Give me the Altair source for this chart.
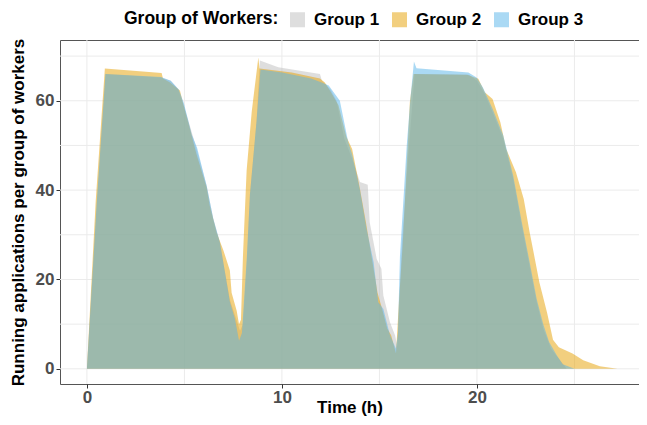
import altair as alt
import pandas as pd

groups = ["Group 1", "Group 2", "Group 3"]
colors = ["#bebebe", "#E69F00", "#56B4E9"]

# Group 1 (grey)
t1 = [0, 0.5, 0.95, 3.8, 4.3, 4.68, 4.94, 5.28, 5.62, 6.14, 6.48, 6.82, 7.08, 7.33, 7.59, 7.85, 8.0, 8.2,
      8.36, 8.7, 8.87, 9.81, 11.95, 12.05, 12.5, 12.8, 13.2, 13.6, 14.0, 14.4, 14.5, 14.86, 15.1, 15.2,
      15.54, 15.8, 15.92, 16.15, 16.5, 16.7, 16.8, 19.6, 20.0, 20.4, 20.8, 21.35, 21.86, 22.3, 22.7,
      23.06, 23.4, 23.8, 24.25, 24.6]
v1 = [0, 36.5, 66, 65.2, 64.5, 62.6, 59.3, 54.4, 49.2, 41, 33.6, 28.3, 21.6, 15.5, 12, 8.5, 10, 24,
      39, 55.5, 69, 67.5, 66, 64.5, 62.5, 60, 51.5, 47, 41.8, 41.2, 32.8, 24.6, 22.4, 16.4,
      10.4, 7.5, 5, 28, 49, 60, 66, 65.8, 64.5, 61.5, 57.5, 51.5, 42.5, 32, 23,
      15, 9, 4.5, 2, 0]

# Group 2 (orange)
t2 = [0, 0.45, 0.92, 3.83, 3.9, 4.26, 4.77, 4.94, 5.28, 5.62, 6.14, 6.3, 6.65, 7.0, 7.33, 7.42, 7.68,
      7.8, 7.9, 8.0, 8.19, 8.45, 8.79, 8.85, 10.5, 11.95, 12.2, 12.5, 12.9, 13.3, 13.6, 14.0, 14.3,
      14.6, 14.9, 15.1, 15.4, 15.6, 15.85, 16.0, 16.2, 16.56, 16.75, 19.5, 20.07, 20.4, 20.8, 21.2,
      21.5, 22.0, 22.4, 22.7, 22.97, 23.2, 23.6, 23.9, 24.2, 24.9, 25.45, 26.3, 27.2]
v2 = [0, 37.5, 67.2, 66.2, 65, 64.1, 62.3, 59.3, 53.8, 48, 40.6, 36.5, 30.5, 26.5, 22, 17, 13,
      10, 11, 25, 44.4, 57.5, 69.7, 67.2, 66.3, 65, 64.1, 62, 59, 52, 49.2, 40.3, 33,
      25, 17, 14, 9, 7.5, 3.4, 15, 28.4, 59.7, 66, 65.8, 64.9, 61.9, 60.4, 55.2,
      49.2, 44, 38, 30.6, 24.6, 19.4, 12.5, 6.5, 4.8, 3.4, 1.9, 0.6, 0]

# Group 3 (blue)
t3 = [0, 0.5, 0.95, 3.8, 4.3, 4.7, 4.97, 5.37, 5.65, 6.14, 6.48, 6.82, 7.08, 7.33, 7.59, 7.8, 7.95,
      8.2, 8.36, 8.7, 8.9, 10.0, 11.5, 12.1, 12.4, 12.97, 13.4, 13.6, 14.0, 14.34, 14.7, 14.94, 15.2,
      15.54, 15.85, 15.95, 16.05, 16.4, 16.6, 16.77, 16.9, 19.56, 19.98, 20.3, 20.8, 21.35, 21.86,
      22.3, 22.7, 23.06, 23.4, 23.7, 24.1, 24.4, 25.0]
v3 = [0, 37, 66, 65.3, 64.5, 62.6, 59.5, 52.5, 49.5, 41, 33.6, 28.3, 21.6, 15, 11.2, 6.3, 8,
      25, 39, 55.5, 67, 66.3, 65, 64, 63.4, 60, 50.7, 48, 40, 31.3, 23.9, 14.9, 13.4,
      7.5, 4.5, 8, 25, 50, 61, 68.8, 67.3, 66.3, 65.2, 63, 58.2, 52.2, 43.2,
      32.8, 23.9, 15.7, 10, 6, 3, 1, 0]

x_grid = [0, 5, 10, 15, 20, 25]
y_grid = [0, 10, 20, 30, 40, 50, 60, 70]
x_ticks = [0, 10, 20]
y_ticks = [0, 20, 40, 60]

rows = []
for g, ts, vs in zip(groups, [t1, t2, t3], [v1, v2, v3]):
    for t, v in zip(ts, vs):
        rows.append({"t": t, "v": v, "group": g})
df = pd.DataFrame(rows)

FONT = "Liberation Sans"
xscale = alt.Scale(domain=[-1.38, 28.31], nice=False, zero=False)
yscale = alt.Scale(domain=[-3.4, 73.6], nice=False, zero=False)

xaxis = alt.Axis(values=x_ticks, grid=False, domain=False, ticks=True, tickSize=4,
                 tickColor="#333333", tickWidth=1, labelFont=FONT, labelFontWeight="bold",
                 labelFontSize=17, labelColor="#4d4d4d", labelPadding=1, labelFlush=False,
                 title="Time (h)", titleFont=FONT, titleFontSize=17, titleFontWeight="bold",
                 titleColor="black", titleY=23, titleBaseline="middle")
yaxis = alt.Axis(values=y_ticks, grid=False, domain=False, ticks=True, tickSize=4,
                 tickColor="#333333", tickWidth=1, labelFont=FONT, labelFontWeight="bold",
                 labelFontSize=17, labelColor="#4d4d4d", labelPadding=2, labelFlush=False,
                 title="Running applications per group of workers", titleFont=FONT,
                 titleFontSize=17, titleFontWeight="bold", titleColor="black",
                 titleX=-42, titleY=172, titleBaseline="middle")

gx = alt.Chart(pd.DataFrame({"t": x_grid})).mark_rule(color="#ebebeb", strokeWidth=1).encode(
    x=alt.X("t:Q", scale=xscale, axis=xaxis))
gy = alt.Chart(pd.DataFrame({"v": y_grid})).mark_rule(color="#ebebeb", strokeWidth=1).encode(
    y=alt.Y("v:Q", scale=yscale, axis=yaxis))

areas = alt.Chart(df).mark_area(opacity=0.5, interpolate="linear").encode(
    x=alt.X("t:Q", scale=xscale, axis=xaxis),
    y=alt.Y("v:Q", scale=yscale, axis=yaxis, stack=None),
    color=alt.Color("group:N", scale=alt.Scale(domain=groups, range=colors),
                    legend=alt.Legend(title="Group of Workers:", orient="none", legendX=64,
                                      legendY=-29, direction="horizontal", titleOrient="left",
                                      symbolType="square", symbolSize=225, symbolStrokeWidth=0,
                                      symbolOpacity=0.5, labelFont=FONT, labelFontSize=17,
                                      labelFontWeight="bold", labelColor="black", labelOffset=8,
                                      columnPadding=11, titleFont=FONT, titleFontSize=17.5,
                                      titleFontWeight="bold", titleColor="black", titlePadding=10)),
    order=alt.Order("group:N"),
)

chart = alt.layer(gx, gy, areas).properties(
    width=579, height=344,
    autosize=alt.AutoSizeParams(type="none"),
    padding={"left": 52, "top": 32, "right": 0, "bottom": 33},
).configure_view(stroke="#555555", strokeWidth=1)

chart.save("out.html", embed_options={"renderer": "svg", "actions": False})
